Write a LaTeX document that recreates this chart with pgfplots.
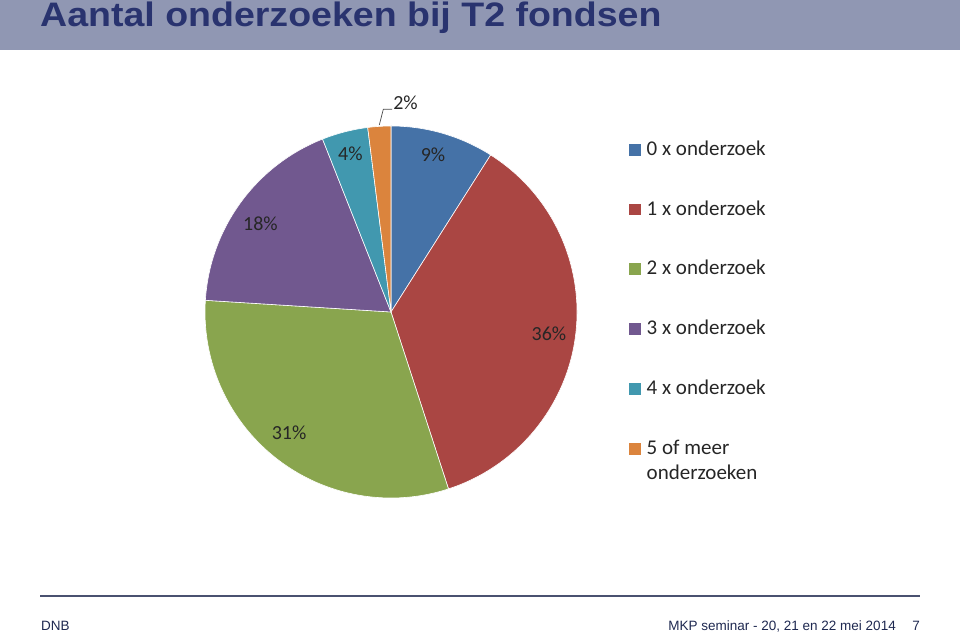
\documentclass[border=0pt]{standalone}
\usepackage{fontspec}
\setmainfont{Carlito}
\newfontfamily\arial{Liberation Sans}
\usepackage{graphicx}
\usepackage{pgfplots}
\usepackage{pgfplotstable}
\pgfplotsset{compat=1.18}

\definecolor{pieA}{HTML}{4572A7}
\definecolor{pieB}{HTML}{AA4643}
\definecolor{pieC}{HTML}{89A54E}
\definecolor{pieD}{HTML}{71588F}
\definecolor{pieE}{HTML}{4198AF}
\definecolor{pieF}{HTML}{DB843D}
\definecolor{titlebar}{HTML}{9097B3}
\definecolor{titletext}{HTML}{29336F}
\definecolor{footline}{HTML}{4A5170}
\definecolor{foottext}{HTML}{1E2850}

% share per category (percent), slices run clockwise from 12 o'clock
\pgfplotstableread{
value color
9  pieA
36 pieB
31 pieC
18 pieD
4  pieE
2  pieF
}\piedata

\begin{document}
\begin{tikzpicture}[x=1pt,y=1pt]
\path (0,0) rectangle (960,636);

% title bar
\fill[titlebar] (0,586) rectangle (960,636);
\node[anchor=base west, inner sep=0pt, text=titletext]
  at (40,609) {\scalebox{1.028}[0.93]{\arial\bfseries\fontsize{36.5}{40}\selectfont Aantal onderzoeken bij T2 fondsen}};

\begin{axis}[
    at={(391pt,324pt)}, anchor=center,
    width=372pt, height=372pt, scale only axis,
    xmin=-1, xmax=1, ymin=-1, ymax=1,
    hide axis, clip=false,
  ]
  \def\acc{0}
  \pgfplotsforeachungrouped \i in {0,...,5}{
    \pgfplotstablegetelem{\i}{value}\of\piedata
    \pgfmathsetmacro{\sa}{90-3.6*\acc}
    \pgfmathsetmacro{\acc}{\acc+\pgfplotsretval}
    \pgfmathsetmacro{\ea}{90-3.6*\acc}
    \pgfplotstablegetelem{\i}{color}\of\piedata
    \edef\slice{\noexpand\fill[\pgfplotsretval, draw=white, line width=0.6pt]
      (axis cs:0,0) -- (axis cs:{cos(\sa)},{sin(\sa)})
      arc[start angle=\sa, end angle=\ea, radius=186pt] -- cycle;}
    \slice
  }
  \begin{scope}[every node/.style={font=\fontsize{20}{24}\selectfont, text=black!85}]
    \node at (axis cs:0.226,0.844) {9\%};
    \node at (axis cs:0.849,-0.118) {36\%};
    \node at (axis cs:-0.548,-0.651) {31\%};
    \node at (axis cs:-0.702,0.475) {18\%};
    \node at (axis cs:-0.218,0.850) {4\%};
    \node at (axis cs:0.078,1.124) {2\%};
  \end{scope}
\end{axis}

% leader line for the 2% slice
\draw[black!70, line width=0.7pt] (379.3,511) -- (383.3,526.7) -- (392,526.7);

% legend
\foreach \c/\t/\y in {pieA/0 x onderzoek/156, pieB/1 x onderzoek/215.5,
                      pieC/2 x onderzoek/275, pieD/3 x onderzoek/335,
                      pieE/4 x onderzoek/395, pieF/5 of meer/455}{
  \fill[\c] (629.3,636-\y) rectangle (640.7,636-\y+11.5);
  \node[anchor=base west, inner sep=0pt, text=black!85,
        font=\fontsize{21}{25}\selectfont] at (646.5,636-\y) {\t};
}
\node[anchor=base west, inner sep=0pt, text=black!85,
      font=\fontsize{21}{25}\selectfont] at (646.5,636-480) {onderzoeken};

% footer
\draw[footline, line width=1.3pt] (40,40) -- (920,40);
\node[anchor=base west, inner sep=0pt, text=foottext]
  at (41,5) {\arial\fontsize{13.5}{16}\selectfont DNB};
\node[anchor=base east, inner sep=0pt, text=foottext]
  at (896,5) {\arial\fontsize{13.5}{16}\selectfont MKP seminar - 20, 21 en 22 mei 2014};
\node[anchor=base east, inner sep=0pt, text=foottext]
  at (920,5) {\arial\fontsize{13.5}{16}\selectfont 7};
\end{tikzpicture}
\end{document}
